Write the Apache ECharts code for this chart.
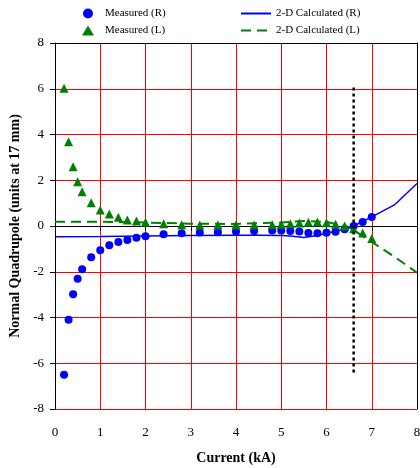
<!DOCTYPE html>
<html>
<head>
<meta charset="utf-8">
<script src="https://cdn.jsdelivr.net/npm/echarts@6/dist/echarts.min.js"></script>
<style>html,body{margin:0;padding:0;background:#fff}#c{width:420px;height:468px}</style>
</head>
<body>
<div id="c"></div>
<script>
// Measured current values (kA)
const measuredX = [0.2,0.3,0.4,0.5,0.6,0.8,1.0,1.2,1.4,1.6,1.8,2.0,2.4,2.8,3.2,3.6,4.0,4.4,4.8,5.0,5.2,5.4,5.6,5.8,6.0,6.2,6.4,6.6,6.8,7.0];
const measuredR = [-6.5,-4.1,-2.98,-2.31,-1.89,-1.37,-1.06,-0.84,-0.70,-0.61,-0.51,-0.45,-0.36,-0.32,-0.28,-0.27,-0.24,-0.22,-0.2,-0.2,-0.22,-0.24,-0.31,-0.32,-0.3,-0.25,-0.14,0.0,0.18,0.39];
const measuredL = [6.02,3.68,2.59,1.93,1.5,1.02,0.7,0.52,0.38,0.26,0.22,0.16,0.1,0.05,0.04,0.04,0.04,0.04,0.05,0.08,0.1,0.13,0.16,0.18,0.14,0.08,0.0,-0.12,-0.31,-0.55];
// 2-D calculated curves
const calcRX = [0,1,2,3,4,4.5,5,5.2,5.5,5.8,6.0,6.4,6.6,7.0,7.5,8];
const calcRY = [-0.47,-0.46,-0.44,-0.42,-0.4,-0.4,-0.42,-0.44,-0.5,-0.42,-0.32,-0.14,0.0,0.4,0.92,1.86];
const calcLX = [0,1,2,3,4,5,5.5,6,6.5,7,7.5,8];
const calcLY = [0.19,0.19,0.15,0.1,0.09,0.15,0.22,0.18,-0.05,-0.7,-1.34,-2.04];
// vertical dotted marker line
const markerX = [6.6,6.6];
const markerY = [6.05,-6.5];
// ticks
const xTicks = [0,1,2,3,4,5,6,7,8];
const yTicks = [-8,-6,-4,-2,0,2,4,6,8];

const zip = (a,b)=>a.map((v,i)=>[v,b[i]]);
const serif = '"Liberation Serif", "DejaVu Serif", serif';
const xMin = xTicks[0], xMax = xTicks[xTicks.length-1];
const yMin = yTicks[0], yMax = yTicks[yTicks.length-1];

const chart = echarts.init(document.getElementById('c'), null, {renderer:'canvas'});
chart.setOption({
  animation:false,
  backgroundColor:'#fff',
  textStyle:{fontFamily:serif},
  legend:[
    {left:77, top:3, orient:'vertical', itemGap:6, itemWidth:12, itemHeight:10,
     data:['Measured (R)','Measured (L)'],
     textStyle:{fontFamily:serif, fontSize:11, color:'#000', padding:[0,0,0,6]}},
    {left:235, top:3, orient:'vertical', itemGap:6, itemWidth:30, itemHeight:10,
     data:[{name:'2-D Calculated (R)', itemStyle:{opacity:0}},{name:'2-D Calculated (L)', itemStyle:{opacity:0}}],
     textStyle:{fontFamily:serif, fontSize:11, color:'#000'}}
  ],
  grid:{left:55, right:3, top:43, bottom:59, containLabel:false, outerBoundsMode:'none'},
  xAxis:[{type:'value', min:xMin, max:xMax, interval:1,
    name:'Current (kA)', nameLocation:'middle', nameGap:42,
    nameTextStyle:{fontFamily:serif, fontWeight:'bold', fontSize:14, color:'#000'},
    axisLine:{lineStyle:{color:'#000', width:1}},
    axisTick:{show:true, length:5, lineStyle:{color:'#000'}},
    axisLabel:{fontFamily:serif, fontSize:13, color:'#000', margin:17},
    splitLine:{show:true, lineStyle:{color:'#ff0000', width:1}}},
    {type:'value', position:'top', min:xMin, max:xMax, interval:1,
    axisLine:{show:true, onZero:false, lineStyle:{color:'#000', width:1}},
    axisTick:{show:false}, axisLabel:{show:false}, splitLine:{show:false}}],
  yAxis:[{type:'value', min:yMin, max:yMax, interval:2,
    name:'Normal Quadrupole (units at 17 mm)', nameLocation:'middle', nameGap:33,
    nameTextStyle:{fontFamily:serif, fontWeight:'bold', fontSize:14, color:'#000'},
    axisLine:{show:true, lineStyle:{color:'#000', width:1}},
    axisTick:{show:true, length:5, lineStyle:{color:'#000'}},
    axisLabel:{fontFamily:serif, fontSize:13, color:'#000', margin:11},
    splitLine:{show:true, lineStyle:{color:'#ff0000', width:1}}},
    {type:'value', position:'right', min:yMin, max:yMax, interval:2,
    axisLine:{show:true, onZero:false, lineStyle:{color:'#000', width:1}},
    axisTick:{show:false}, axisLabel:{show:false}, splitLine:{show:false}}],
  series:[
    {name:'2-D Calculated (R)', type:'line', data:zip(calcRX,calcRY), symbol:'none',
     lineStyle:{color:'#0000ff', width:1.5}, itemStyle:{color:'#0000ff'}, z:2},
    {name:'2-D Calculated (L)', type:'line', data:zip(calcLX,calcLY), symbol:'none',
     lineStyle:{color:'#008000', width:2, type:[10,6]}, itemStyle:{color:'#008000'}, z:2},
    {name:'Measured (R)', type:'scatter', data:zip(measuredX,measuredR), symbol:'circle', symbolSize:8,
     itemStyle:{color:'#0000ff', opacity:1}, z:3},
    {name:'Measured (L)', type:'scatter', data:zip(measuredX,measuredL), symbol:'triangle', symbolSize:9,
     itemStyle:{color:'#008000', opacity:1}, z:3},
    {name:'marker', type:'line', data:zip(markerX,markerY), symbol:'none',
     lineStyle:{color:'#000', width:2.5, type:[3,3]}, z:4}
  ]
});
</script>
</body>
</html>
